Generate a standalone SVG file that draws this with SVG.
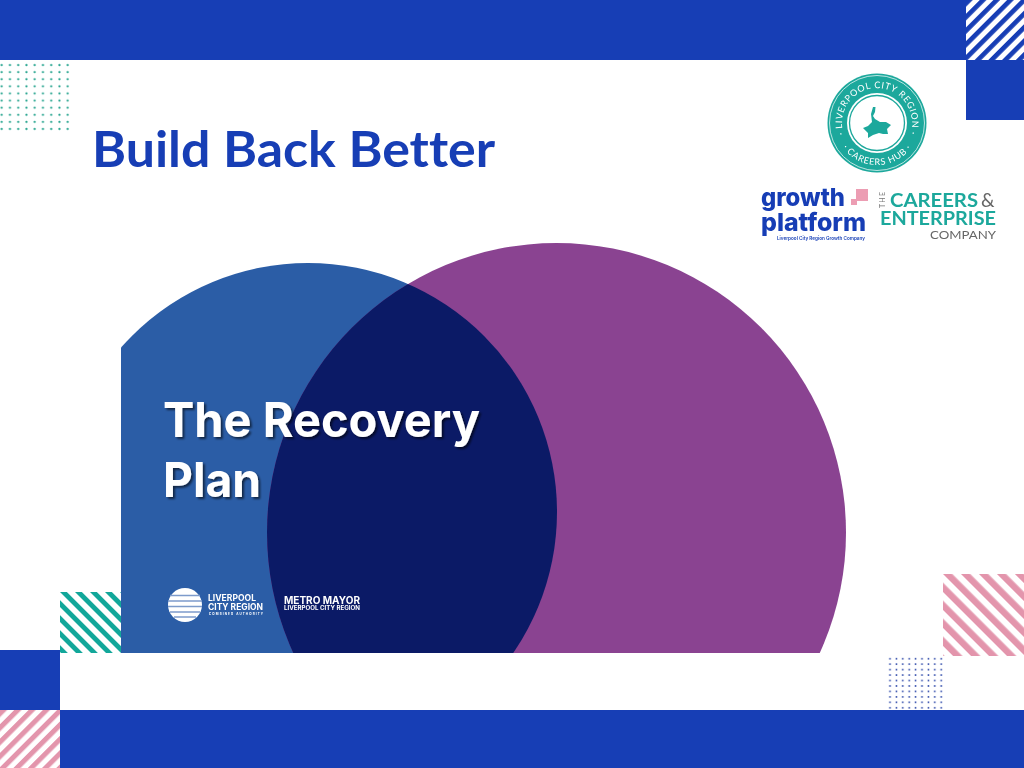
<svg xmlns="http://www.w3.org/2000/svg" width="1024" height="768" viewBox="0 0 1024 768">
<style>
.bl{fill:#173EB5}
.lato{font-family:"Lato","Liberation Sans",sans-serif;font-variant-ligatures:none}
.h{font-family:"Inter","Liberation Sans",sans-serif;font-weight:700;fill:#fff}
.gp{font-family:"Inter","Liberation Sans",sans-serif;font-weight:800;fill:#173EB5}
.tl{fill:#1DA89C}
</style>
<defs>
<pattern id="stTR" width="9.7" height="9.7" patternUnits="userSpaceOnUse" patternTransform="translate(966 0) rotate(45)"><rect width="9.700" height="9.700" fill="#fff"/><rect width="4.700" height="9.700" fill="#173EB5"/></pattern>
<pattern id="stTeal" width="10.6" height="10.6" patternUnits="userSpaceOnUse" patternTransform="translate(60 592) rotate(-45)"><rect width="10.600" height="10.600" fill="#fff"/><rect width="4.800" height="10.600" fill="#12A79A"/></pattern>
<pattern id="stPinkR" width="12.7" height="12.7" patternUnits="userSpaceOnUse" patternTransform="translate(943 574) rotate(-45)"><rect width="12.700" height="12.700" fill="#fff"/><rect width="6.500" height="12.700" fill="#E395AC"/></pattern>
<pattern id="stPinkL" width="10.1" height="10.1" patternUnits="userSpaceOnUse" patternTransform="translate(0 710) rotate(45)"><rect width="10.100" height="10.100" fill="#fff"/><rect width="5" height="10.100" fill="#E395AC"/></pattern>
<pattern id="dotsT" width="8.25" height="7.1" patternUnits="userSpaceOnUse" patternTransform="translate(-2.4 61.5)"><circle cx="4.12" cy="3.55" r="1.100" fill="#2FA893"/></pattern>
<pattern id="dotsB" width="6.4" height="5.45" patternUnits="userSpaceOnUse" patternTransform="translate(886.8 656)"><circle cx="3.2" cy="2.72" r="0.9" fill="#2A45A8"/></pattern>
<clipPath id="panel"><rect x="121" y="200" width="800" height="453"/></clipPath>
<clipPath id="blueC"><circle cx="308" cy="512" r="249"/></clipPath>
<path id="arcTop" d="M877 158A35 35 0 1 1 877 88A35 35 0 1 1 877 158"/>
<path id="arcBot" d="M877 81A42 42 0 0 0 877 165A42 42 0 0 0 877 81"/>
<filter id="soft" x="-10%" y="-10%" width="120%" height="120%"><feGaussianBlur stdDeviation="0.4"/></filter>
<filter id="shadow" x="-5%" y="-10%" width="110%" height="125%"><feGaussianBlur in="SourceAlpha" stdDeviation="1.2"/><feOffset dx="2" dy="2"/><feComponentTransfer result="s"><feFuncA type="linear" slope="0.6"/></feComponentTransfer><feGaussianBlur in="SourceGraphic" stdDeviation="0.4" result="t"/><feMerge><feMergeNode in="s"/><feMergeNode in="t"/></feMerge></filter>
</defs>
<rect width="1024" height="768" fill="#fff"/>
<g id="frame">
<rect class="bl" width="966" height="60"/>
<rect x="966" width="58" height="60" fill="url(#stTR)"/>
<rect class="bl" x="966" y="60" width="58" height="60"/>
<rect class="bl" x="60" y="710" width="964" height="58"/>
<rect class="bl" y="650" width="60" height="60"/>
<rect y="710" width="60" height="58" fill="url(#stPinkL)"/>
<rect x="60" y="592" width="61" height="61" fill="url(#stTeal)"/>
<rect x="943" y="574" width="81" height="82" fill="url(#stPinkR)"/>
<rect y="61.500" width="72" height="71" fill="url(#dotsT)"/>
<rect x="886.800" y="656" width="57.600" height="54" fill="url(#dotsB)"/>
</g>
<text id="title" class="lato" x="92" y="167" font-size="50" font-weight="700" fill="#173EB5" textLength="403" lengthAdjust="spacingAndGlyphs">Build Back Better</text>
<g id="recovery-panel">
<g clip-path="url(#panel)">
<circle cx="308" cy="512" r="249" fill="#2B5DA6"/>
<circle cx="556.500" cy="532.500" r="289.500" fill="#8A4391"/>
<g clip-path="url(#blueC)"><circle cx="556.500" cy="532.500" r="289.500" fill="#0B1A66"/></g>
</g>
<g filter="url(#shadow)">
<text class="h" x="163" y="437" font-size="48" textLength="317" lengthAdjust="spacingAndGlyphs">The Recovery</text>
<text class="h" x="163" y="497" font-size="48" textLength="98" lengthAdjust="spacingAndGlyphs">Plan</text>
</g>
</g>
<g id="lcr-logo" filter="url(#soft)">
<circle cx="185" cy="605" r="17" fill="#fff"/>
<g stroke="#7D9BCB" stroke-width="1.300"><path d="M170 595.500H200M168 601H202M168 606.500H202M170 612H200M174 617H196"/></g>
<text class="h" x="208" y="601" font-size="8.500" textLength="48" lengthAdjust="spacingAndGlyphs">LIVERPOOL</text>
<text class="h" x="208" y="609.500" font-size="8.500" textLength="55" lengthAdjust="spacingAndGlyphs">CITY REGION</text>
<text class="h" x="209" y="614.500" font-size="3" font-weight="400" textLength="54">COMBINED AUTHORITY</text>
</g>
<g id="metro-logo" filter="url(#soft)">
<text class="h" x="284" y="604" font-size="10" textLength="76" lengthAdjust="spacingAndGlyphs">METRO MAYOR</text>
<text class="h" x="284" y="609.500" font-size="5.500" font-weight="400" textLength="76" lengthAdjust="spacingAndGlyphs">LIVERPOOL CITY REGION</text>
</g>
<g id="careers-hub-logo" filter="url(#soft)">
<circle class="tl" cx="877" cy="123" r="49.500"/>
<circle cx="877" cy="123" r="47.500" fill="none" stroke="#fff" stroke-width="0.700"/>
<circle cx="877" cy="123" r="30" fill="#fff"/>
<circle cx="877" cy="123" r="27.500" fill="none" stroke="#1DA89C" stroke-width="1.300"/>
<path class="tl" d="M873 107L875.500 107L875 112L873 116L875 119L880 122L886 122L891 125L887 129L888 134L883 134L879 133L873 135L868 138L868 133L863 128L868 126L872 122L871 114Z"/>
<text font-family="Lato,'Liberation Sans',sans-serif" font-size="9" fill="#fff" letter-spacing="0.700"><textPath href="#arcTop" startOffset="50%" text-anchor="middle">· LIVERPOOL CITY REGION ·</textPath></text>
<text font-family="Lato,'Liberation Sans',sans-serif" font-size="9" fill="#fff" letter-spacing="0.700"><textPath href="#arcBot" startOffset="50%" text-anchor="middle">· CAREERS HUB ·</textPath></text>
</g>
<g id="growth-platform-logo" filter="url(#soft)">
<text class="gp" x="761" y="205.500" font-size="25" textLength="84" lengthAdjust="spacingAndGlyphs">growth</text>
<text class="gp" x="761" y="230.500" font-size="25" textLength="105" lengthAdjust="spacingAndGlyphs">platform</text>
<rect x="856" y="189" width="12" height="12" fill="#EC9DB3"/>
<rect x="851" y="199" width="6" height="6" fill="#EC9DB3"/>
<text x="777" y="240" font-family="Inter,'Liberation Sans',sans-serif" font-size="5" font-weight="600" fill="#173EB5" textLength="88" lengthAdjust="spacingAndGlyphs">Liverpool City Region Growth Company</text>
</g>
<g id="cec-logo" filter="url(#soft)">
<text transform="translate(885 208) rotate(-90)" class="lato" font-size="7" fill="#777" textLength="16">THE</text>
<text class="lato" x="890" y="206.500" font-size="19.500" font-weight="700" fill="#1DA89C" textLength="88" lengthAdjust="spacingAndGlyphs">CAREERS</text>
<text class="lato" x="981" y="206.500" font-size="19" fill="#666">&amp;</text>
<text class="lato" x="880" y="224.500" font-size="19.500" font-weight="700" fill="#1DA89C" textLength="116" lengthAdjust="spacingAndGlyphs">ENTERPRISE</text>
<text class="lato" x="930" y="238.500" font-size="12" fill="#666" textLength="66" lengthAdjust="spacingAndGlyphs">COMPANY</text>
</g>
</svg>
